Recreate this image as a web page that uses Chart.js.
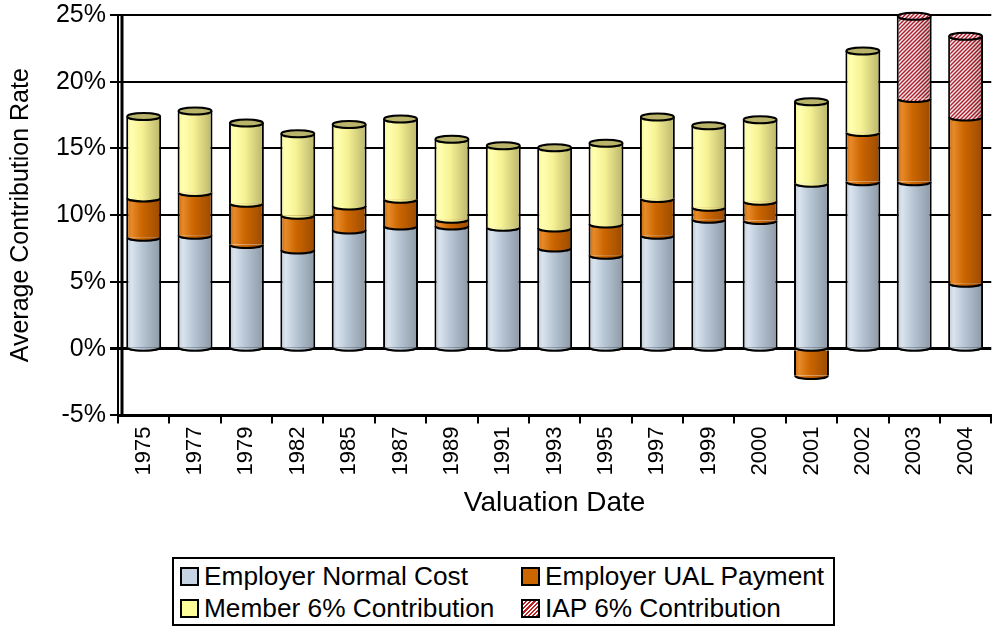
<!DOCTYPE html>
<html>
<head>
<meta charset="utf-8">
<script src="https://cdn.jsdelivr.net/npm/chart.js@4.4.1/dist/chart.umd.min.js"></script>
<style>
    html, body { margin: 0; padding: 0; background: #fff; }
    #wrap { position: relative; width: 995px; height: 638px; overflow: hidden; }
    #legend {
        position: absolute; left: 172px; top: 557px; width: 663px; height: 69px;
        box-sizing: border-box; border: 2px solid #000; background: #fff;
        display: grid; grid-template-columns: 341px auto; grid-auto-rows: 32px;
        padding: 1px 0 0 6px;
        font-family: 'Liberation Sans', Arial, sans-serif; font-size: 25px; color: #000;
    }
    .item { display: flex; align-items: center; white-space: nowrap; }
    .item span.txt { display: inline-block; transform: scaleX(1.05); transform-origin: left center; }
    .swatch { width: 15px; height: 15px; border: 2px solid #000; margin-right: 5px; flex: none; }
</style>
</head>
<body>
<div id="wrap">
    <canvas id="contribChart" width="995" height="638"></canvas>
    <div id="legend"></div>
</div>
<script>
// Average contribution rate by valuation date (percent of payroll)
const valuationDates = ['1975', '1977', '1979', '1982', '1985', '1987', '1989', '1991', '1993',
    '1995', '1997', '1999', '2000', '2001', '2002', '2003', '2004'];
const employerNormalCost = [8.35, 8.5, 7.8, 7.4, 8.9, 9.2, 9.2, 9.1, 7.55, 7.0, 8.5, 9.7, 9.6, 12.4, 12.5, 12.5, 4.9];
const employerUalPayment = [2.95, 3.2, 3.1, 2.6, 1.8, 2.0, 0.5, 0, 1.5, 2.35, 2.75, 0.9, 1.45, -2.0, 3.7, 6.25, 12.45];
const memberContribution = [6.1, 6.1, 6.0, 6.1, 6.1, 6.0, 6.0, 6.1, 6.0, 6.05, 6.1, 6.1, 6.1, 6.1, 6.1, 0, 0];
const iapContribution = [0, 0, 0, 0, 0, 0, 0, 0, 0, 0, 0, 0, 0, 0, 0, 6.15, 6.05];
const seriesLabels = ['Employer Normal Cost', 'Employer UAL Payment', 'Member 6% Contribution', 'IAP 6% Contribution'];

const BAR_PCT = 0.68;
const FONT = "'Liberation Sans', Arial, sans-serif";

const palette = [
    { light: '#DAE4EE', mid: '#B8C7D6', dark: '#8C98A4', swatch: '#C5D3E2' },
    { light: '#E68A2A', mid: '#CC6600', dark: '#9A4A00', swatch: '#CC6600' },
    { light: '#FFFFB0', mid: '#F6F294', dark: '#B9B46A', swatch: '#FFFF99' },
    { light: '#F0C8C8', mid: '#D89090', dark: '#A05050', swatch: '#E0A0A0' }
];

// red hatch used for the IAP series
function makeHatch() {
    const c = document.createElement('canvas');
    c.width = 4; c.height = 4;
    const g = c.getContext('2d');
    g.fillStyle = '#FBEDED';
    g.fillRect(0, 0, 4, 4);
    g.strokeStyle = '#B01828';
    g.lineWidth = 1.4;
    g.beginPath();
    g.moveTo(-1, 5); g.lineTo(5, -1);
    g.moveTo(-1, 1); g.lineTo(1, -1);
    g.moveTo(3, 5); g.lineTo(5, 3);
    g.stroke();
    return c;
}
const hatchTile = makeHatch();

function cylinderFill(ctx, di, cx, w) {
    if (di === 3) return ctx.createPattern(hatchTile, 'repeat');
    const p = palette[di];
    if (!isFinite(cx) || !isFinite(w) || w <= 0) return p.mid;
    const g = ctx.createLinearGradient(cx - w / 2, 0, cx + w / 2, 0);
    g.addColorStop(0, p.mid);
    g.addColorStop(0.15, p.light);
    g.addColorStop(0.45, p.mid);
    g.addColorStop(1, p.dark);
    return g;
}

function barFill(di) {
    return (c) => {
        const xs = c.chart.scales.x;
        if (!xs || c.type !== 'data') return palette[di].mid;
        const cx = xs.getPixelForValue(c.dataIndex);
        const w = xs.width / valuationDates.length * BAR_PCT;
        return cylinderFill(c.chart.ctx, di, cx, w);
    };
}

function shadeOverlay(ctx, cx, w) {
    const g = ctx.createLinearGradient(cx - w / 2, 0, cx + w / 2, 0);
    g.addColorStop(0, 'rgba(255,255,255,0.10)');
    g.addColorStop(0.5, 'rgba(0,0,0,0)');
    g.addColorStop(1, 'rgba(0,0,0,0.22)');
    return g;
}

// rounded ends and top caps so the stacks look like cylinders
const cylinderPlugin = {
    id: 'cylinders',
    beforeDatasetsDraw(chart) {
        const { ctx, chartArea } = chart;
        ctx.save();
        ctx.strokeStyle = '#000';
        ctx.lineWidth = 3;
        ctx.beginPath();
        ctx.moveTo(chartArea.left + 4, chartArea.top - 1);
        ctx.lineTo(chartArea.left + 4, chartArea.bottom);
        ctx.stroke();
        ctx.restore();
    },
    afterDatasetsDraw(chart) {
        const ctx = chart.ctx;
        const ry = 3.5;
        valuationDates.forEach((d, i) => {
            const segs = [];
            chart.data.datasets.forEach((ds, di) => {
                const el = chart.getDatasetMeta(di).data[i];
                if (!el || !ds.data[i]) return;
                segs.push({ el, di, top: Math.min(el.y, el.base), bottom: Math.max(el.y, el.base) });
            });
            if (!segs.length) return;
            segs.sort((a, b) => b.bottom - a.bottom);
            ctx.save();
            ctx.lineWidth = 2;
            ctx.strokeStyle = '#000';
            segs.forEach(s => {
                const rx = s.el.width / 2 - 1;
                if (s.di === 3) {
                    ctx.fillStyle = shadeOverlay(ctx, s.el.x, s.el.width);
                    ctx.fillRect(s.el.x - rx, s.top, rx * 2, s.bottom - s.top);
                }
                ctx.beginPath();
                ctx.ellipse(s.el.x, s.bottom, rx, ry, 0, 0, Math.PI);
                ctx.closePath();
                ctx.fillStyle = cylinderFill(ctx, s.di, s.el.x, s.el.width);
                ctx.fill();
                ctx.beginPath();
                ctx.ellipse(s.el.x, s.bottom, rx, ry, 0, 0, Math.PI);
                ctx.stroke();
            });
            const topSeg = segs.reduce((a, s) => (s.top < a.top ? s : a), segs[0]);
            const rx = topSeg.el.width / 2 - 1;
            ctx.beginPath();
            ctx.ellipse(topSeg.el.x, topSeg.top, rx, ry, 0, 0, Math.PI * 2);
            ctx.fillStyle = topSeg.di === 3 ? ctx.createPattern(hatchTile, 'repeat') : palette[topSeg.di].dark;
            ctx.fill();
            ctx.stroke();
            ctx.restore();
        });
    }
};

const seriesData = [employerNormalCost, employerUalPayment, memberContribution, iapContribution];

const config = {
    type: 'bar',
    data: {
        labels: valuationDates,
        datasets: seriesData.map((values, di) => ({
            label: seriesLabels[di],
            data: values,
            backgroundColor: barFill(di),
            borderColor: '#000',
            borderWidth: { left: 2, right: 2, top: 0, bottom: 0 },
            borderSkipped: false,
            barPercentage: BAR_PCT,
            categoryPercentage: 1.0
        }))
    },
    options: {
        responsive: false,
        animation: false,
        events: [],
        layout: { padding: { left: 0, right: 0, top: 15, bottom: 118 } },
        plugins: {
            legend: { display: false },
            tooltip: { enabled: false }
        },
        scales: {
            x: {
                stacked: true,
                offset: true,
                grid: { drawOnChartArea: false, drawTicks: true, tickLength: 8, color: '#000', lineWidth: 2, offset: true },
                border: { display: true, color: '#000', width: 3 },
                ticks: { color: '#000', font: { family: FONT, size: 22 }, minRotation: 90, maxRotation: 90, padding: 3, autoSkip: false },
                title: { display: true, text: 'Valuation Date', color: '#000', font: { family: FONT, size: 28 }, padding: { top: 8, bottom: 0 } }
            },
            y: {
                stacked: true,
                min: -5,
                max: 25,
                afterFit: (scale) => {
                    scale.width = 118;
                    scale.paddingTop = 0;
                    scale.paddingBottom = 0;
                },
                grid: { color: '#000', lineWidth: (c) => (c.tick && c.tick.value === 0 ? 3 : 2), tickLength: 8 },
                border: { display: true, color: '#000', width: 2 },
                ticks: { stepSize: 5, color: '#000', font: { family: FONT, size: 25 }, padding: 4, callback: (v) => v + '%' },
                title: { display: true, text: 'Average Contribution Rate', color: '#000', font: { family: FONT, size: 25 }, padding: { top: 6, bottom: 0 } }
            }
        }
    },
    plugins: [cylinderPlugin]
};

const ctx = document.getElementById('contribChart').getContext('2d');
const contribChart = new Chart(ctx, config);

// grid-style legend below the chart
const legendEl = document.getElementById('legend');
seriesLabels.forEach((label, di) => {
    const item = document.createElement('div');
    item.className = 'item';
    const sw = document.createElement('span');
    sw.className = 'swatch';
    if (di === 3) {
        sw.style.backgroundImage = 'repeating-linear-gradient(-45deg, #C02020 0 1.5px, #fff 1.5px 3px)';
    } else {
        sw.style.background = palette[di].swatch;
    }
    const txt = document.createElement('span');
    txt.className = 'txt';
    txt.textContent = label;
    item.appendChild(sw);
    item.appendChild(txt);
    legendEl.appendChild(item);
});
</script>
</body>
</html>
